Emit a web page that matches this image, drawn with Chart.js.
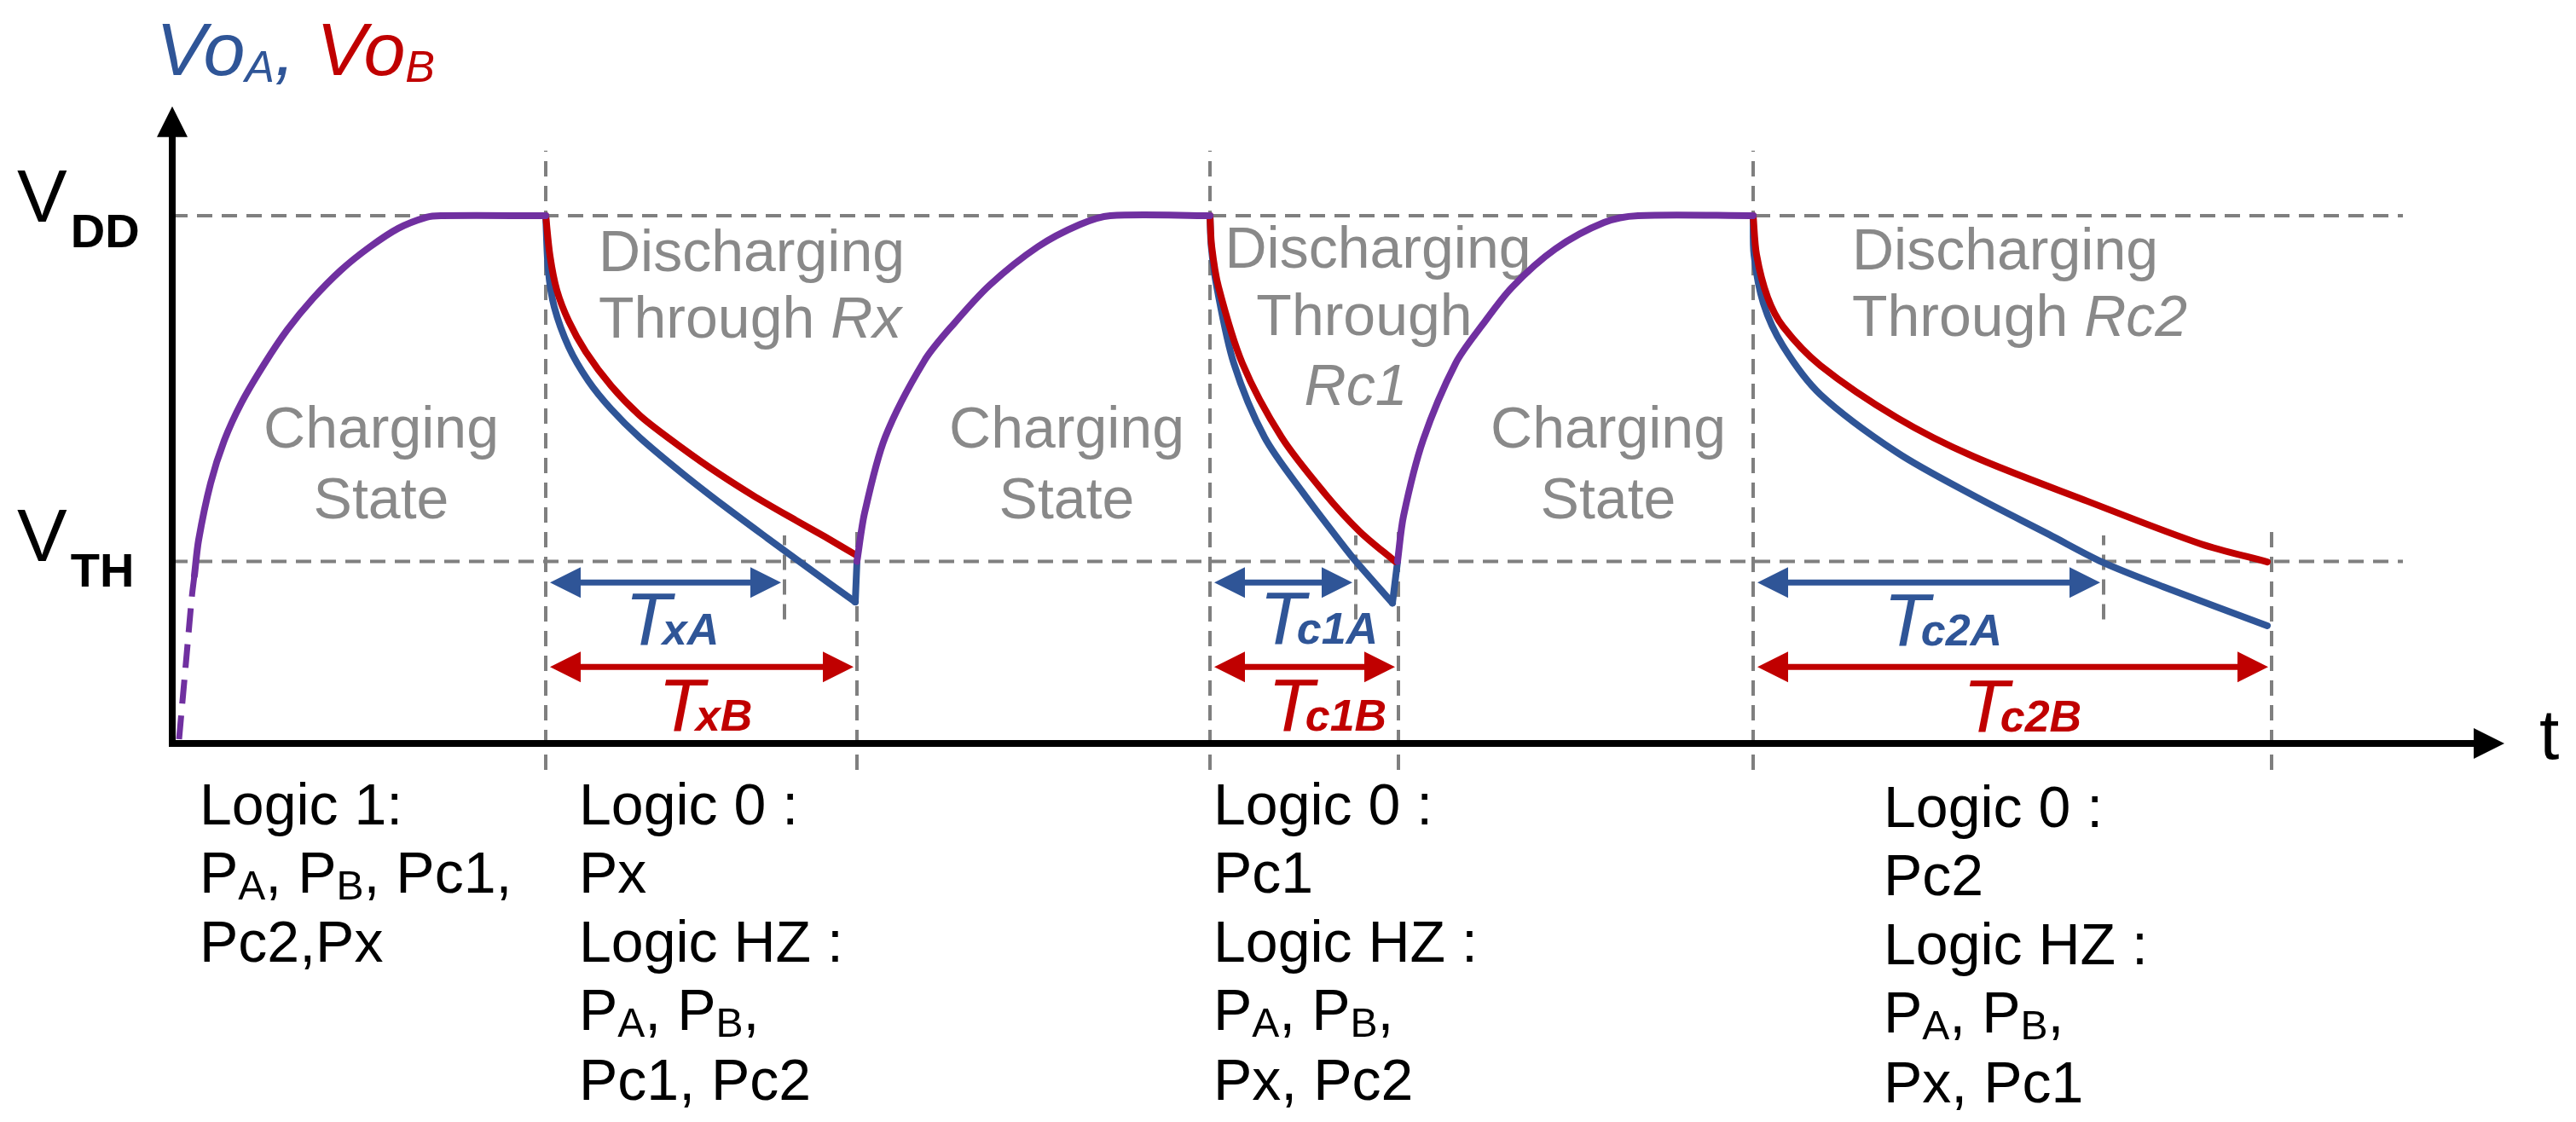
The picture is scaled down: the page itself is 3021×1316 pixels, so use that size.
<!DOCTYPE html>
<html lang="en">
<head>
<meta charset="UTF-8">
<title>VoA, VoB charging / discharging</title>
<script src="https://cdn.jsdelivr.net/npm/chart.js"></script>
<style>
  html, body { margin: 0; padding: 0; background: #fff; }
  #wrap { width: 3021px; height: 1316px; }
</style>
</head>
<body>
<div id="wrap"><canvas id="timing" width="3021" height="1316"></canvas></div>
<script>
// voltage levels, VDD normalised to 1
const VDD = 1.0;
const VTH = 0.345;

// time marks (arbitrary units)
const dischargeStart = [4.38, 12.17, 18.54];
const dischargeEnd = [8.03, 14.38, 24.62];
const crossA = [7.18, 13.88, 22.65]; // VoA reaches VTH

// charging curves (shared by VoA and VoB) [t, v]
const charge1Dashed = [[0.08, 0.008], [0.17, 0.17], [0.23, 0.278], [0.26, 0.318]];
const charge1 = [[0.26, 0.318], [0.31, 0.386], [0.45, 0.493], [0.61, 0.574], [0.81, 0.645], [1.08, 0.719],
  [1.35, 0.784], [1.65, 0.843], [1.98, 0.897], [2.31, 0.940], [2.65, 0.976], [2.98, 0.997], [3.15, 1.0], [4.38, 1.0]];
const charge2 = [[8.03, 0.345], [8.12, 0.437], [8.36, 0.580], [8.82, 0.725], [9.17, 0.796], [9.59, 0.869],
  [10.15, 0.941], [10.64, 0.983], [11.0, 1.0], [12.17, 1.0]];
const charge3 = [[14.37, 0.345], [14.44, 0.431], [14.67, 0.575], [15.05, 0.72], [15.36, 0.792], [15.71, 0.864],
  [16.22, 0.937], [16.79, 0.987], [17.19, 1.0], [18.54, 1.0]];

// discharge of VoA (blue)
const dischA1 = [[4.38, 1.0], [4.41, 0.897], [4.48, 0.827], [4.65, 0.751], [4.88, 0.687], [5.15, 0.633],
  [5.48, 0.580], [5.98, 0.512], [6.48, 0.449], [6.98, 0.389], [7.48, 0.330], [8.01, 0.268]];
const dischA2 = [[12.17, 1.0], [12.185, 0.942], [12.25, 0.865], [12.45, 0.72], [12.81, 0.58], [13.27, 0.473],
  [13.78, 0.365], [13.88, 0.345], [14.31, 0.266]];
const dischA3 = [[18.54, 1.0], [18.55, 0.926], [18.66, 0.834], [18.89, 0.753], [19.33, 0.661], [20.23, 0.551],
  [21.12, 0.470], [22.01, 0.396], [22.63, 0.344], [23.35, 0.297], [24.57, 0.223]];
const riseA = [[[8.01, 0.268], [8.03, 0.345]], [[14.31, 0.266], [14.37, 0.345]]];

// discharge of VoB (red)
const dischB1 = [[4.38, 1.0], [4.43, 0.924], [4.51, 0.859], [4.65, 0.800], [4.85, 0.742], [5.15, 0.677],
  [5.48, 0.622], [5.81, 0.580], [6.31, 0.522], [6.81, 0.470], [7.31, 0.423], [7.65, 0.392], [8.03, 0.356]];
const dischB2 = [[12.17, 1.0], [12.19, 0.942], [12.27, 0.865], [12.55, 0.72], [13.01, 0.58], [13.52, 0.473],
  [13.93, 0.401], [14.34, 0.345]];
const dischB3 = [[18.54, 1.0], [18.58, 0.926], [18.71, 0.845], [18.89, 0.790], [19.33, 0.716], [20.23, 0.617],
  [21.12, 0.544], [22.46, 0.459], [23.79, 0.378], [24.57, 0.344]];

const BLUE = '#2f5597', RED = '#c00000', PURPLE = '#7030a0', GREY = '#7f7f7f', TEXTGREY = '#898989';
const FONT = '"Liberation Sans", Arial, sans-serif';

function curve(points, color, extra) {
  return Object.assign({
    data: points.map(p => ({ x: p[0], y: p[1] })),
    borderColor: color,
    borderWidth: 8,
    pointRadius: 0,
    fill: false,
    tension: 0.3,
    borderCapStyle: 'round',
    borderJoinStyle: 'round',
    order: 1
  }, extra || {});
}
function dashed(points) {
  return {
    data: points.map(p => ({ x: p[0], y: p[1] })),
    borderColor: GREY, borderWidth: 4, borderDash: [18, 11],
    pointRadius: 0, fill: false, tension: 0, order: 5
  };
}

const datasets = [];
// guide lines
[VDD, VTH].forEach(v => datasets.push(dashed([[0, v], [26.16, v]])));
dischargeStart.forEach(t => datasets.push(dashed([[t, -0.05], [t, 1.123]])));
dischargeEnd.forEach(t => datasets.push(dashed([[t, -0.05], [t, 0.418]])));
crossA.forEach(t => datasets.push(dashed([[t, 0.235], [t, 0.394]])));
// waveforms
[dischA1, dischA2, dischA3].forEach(d => datasets.push(curve(d, BLUE, { order: 3 })));
riseA.forEach(d => datasets.push(curve(d, BLUE, { order: 3, tension: 0 })));
[dischB1, dischB2, dischB3].forEach(d => datasets.push(curve(d, RED, { order: 2 })));
[charge1, charge2, charge3].forEach(d => datasets.push(curve(d, PURPLE, { order: 1 })));
datasets.push(curve(charge1Dashed, PURPLE, { borderWidth: 7, borderDash: [28, 14], borderCapStyle: 'butt' }));

function rich(ctx, x, y, runs, align) {
  let w = 0;
  runs.forEach(r => { ctx.font = r[1]; w += ctx.measureText(r[0]).width + (r[4] || 0); });
  let cx = align === 'center' ? x - w / 2 : x;
  runs.forEach(r => {
    ctx.font = r[1];
    ctx.fillStyle = r[2];
    cx += r[4] || 0;
    ctx.fillText(r[0], cx, y + (r[3] || 0));
    cx += ctx.measureText(r[0]).width;
  });
}

function head(ctx, tipX, tipY, dir, color) {
  // dir: 1 = pointing right, -1 left, 'up'
  ctx.fillStyle = color;
  ctx.beginPath();
  if (dir === 'up') {
    ctx.moveTo(tipX, tipY);
    ctx.lineTo(tipX - 18, tipY + 36);
    ctx.lineTo(tipX + 18, tipY + 36);
  } else {
    ctx.moveTo(tipX, tipY);
    ctx.lineTo(tipX - dir * 36, tipY - 18);
    ctx.lineTo(tipX - dir * 36, tipY + 18);
  }
  ctx.closePath();
  ctx.fill();
}

const decorations = {
  id: 'decorations',
  beforeDatasetsDraw(chart) {
    const ctx = chart.ctx;
    ctx.save();
    ctx.textBaseline = 'alphabetic';
    const reg = '68px ' + FONT, ital = 'italic 68px ' + FONT;
    // state labels
    [447, 1251, 1886].forEach(cx => {
      rich(ctx, cx, 525, [['Charging', reg, TEXTGREY]], 'center');
      rich(ctx, cx, 608, [['State', reg, TEXTGREY]], 'center');
    });
    rich(ctx, 702, 318, [['Discharging', reg, TEXTGREY]]);
    rich(ctx, 702, 396, [['Through ', reg, TEXTGREY], ['Rx', ital, TEXTGREY]]);
    rich(ctx, 1616, 314, [['Discharging', reg, TEXTGREY]], 'center');
    rich(ctx, 1600, 393, [['Through', reg, TEXTGREY]], 'center');
    rich(ctx, 1590, 475, [['Rc1', ital, TEXTGREY]], 'center');
    rich(ctx, 2172, 316, [['Discharging', reg, TEXTGREY]]);
    rich(ctx, 2172, 394, [['Through ', reg, TEXTGREY], ['Rc2', ital, TEXTGREY]]);
    ctx.restore();
  },
  afterDatasetsDraw(chart) {
    const { ctx, scales: { x, y } } = chart;
    const px = v => x.getPixelForValue(v), py = v => y.getPixelForValue(v);
    ctx.save();

    // axes
    const x0 = px(0), y0 = py(0);
    const yTip = py(1.207), xTip = px(27.35);
    ctx.strokeStyle = '#000';
    ctx.lineWidth = 8;
    ctx.lineJoin = 'miter';
    ctx.beginPath();
    ctx.moveTo(x0, yTip + 30);
    ctx.lineTo(x0, y0);
    ctx.lineTo(xTip - 30, y0);
    ctx.stroke();
    head(ctx, x0, yTip, 'up', '#000');
    head(ctx, xTip, y0, 1, '#000');

    // double arrows
    const levA = py(0.305), levB = py(0.145);
    const arrow = (t1, t2, yy, color) => {
      const a = px(t1) + 5, b = px(t2) - 4;
      ctx.strokeStyle = color;
      ctx.lineWidth = 7;
      ctx.beginPath();
      ctx.moveTo(a + 20, yy);
      ctx.lineTo(b - 20, yy);
      ctx.stroke();
      head(ctx, a, yy, -1, color);
      head(ctx, b, yy, 1, color);
    };
    for (let i = 0; i < 3; i++) {
      arrow(dischargeStart[i], crossA[i], levA, BLUE);
      arrow(dischargeStart[i], dischargeEnd[i], levB, RED);
    }

    ctx.textBaseline = 'alphabetic';
    const T = 'italic 88px ' + FONT, sub = 'italic bold 52px ' + FONT;
    rich(ctx, 733, 756, [['T', T, BLUE], ['xA', sub, BLUE, 0, -10]]);
    rich(ctx, 772, 857, [['T', T, RED], ['xB', sub, RED, 0, -10]]);
    rich(ctx, 1477, 755, [['T', T, BLUE], ['c1A', sub, BLUE, 0, -10]]);
    rich(ctx, 1487, 857, [['T', T, RED], ['c1B', sub, RED, 0, -10]]);
    rich(ctx, 2209, 757, [['T', T, BLUE], ['c2A', sub, BLUE, 0, -10]]);
    rich(ctx, 2302, 858, [['T', T, RED], ['c2B', sub, RED, 0, -10]]);

    // title and axis labels
    const it = 'italic 88px ' + FONT, itSub = 'italic 52px ' + FONT;
    rich(ctx, 183, 88, [['Vo', it, BLUE], ['A', itSub, BLUE, 8], [', ', it, BLUE],
      ['Vo', it, RED], ['B', itSub, RED, 8]]);
    const big = '88px ' + FONT, bsub = 'bold 56px ' + FONT;
    rich(ctx, 20, 260, [['V', big, '#000'], ['DD', bsub, '#000', 30, 4]]);
    rich(ctx, 20, 658, [['V', big, '#000'], ['TH', bsub, '#000', 30, 4]]);
    rich(ctx, 2978, 890, [['t', '84px ' + FONT, '#000']]);

    // logic tables
    const f = '68px ' + FONT, s = '48px ' + FONT, k = '#000';
    const pab = [['P', f, k], ['A', s, k, 8], [', P', f, k], ['B', s, k, 8], [',', f, k]];
    rich(ctx, 234, 967, [['Logic 1:', f, k]]);
    rich(ctx, 234, 1047, pab.slice(0, 4).concat([[', Pc1,', f, k]]));
    rich(ctx, 234, 1128, [['Pc2,Px', f, k]]);
    const col = (cx, dy, zero, hz) => {
      rich(ctx, cx, 967 + dy, [['Logic 0 :', f, k]]);
      rich(ctx, cx, 1047 + dy, [[zero, f, k]]);
      rich(ctx, cx, 1128 + dy, [['Logic HZ :', f, k]]);
      rich(ctx, cx, 1208 + dy, pab);
      rich(ctx, cx, 1290 + dy, [[hz, f, k]]);
    };
    col(679, 0, 'Px', 'Pc1, Pc2');
    col(1423, 0, 'Pc1', 'Px, Pc2');
    col(2209, 3, 'Pc2', 'Px, Pc1');
    ctx.restore();
  }
};

new Chart(document.getElementById('timing').getContext('2d'), {
  type: 'line',
  data: { datasets },
  options: {
    responsive: false,
    animation: false,
    events: [],
    layout: { padding: 0 },
    scales: {
      x: { type: 'linear', display: false, min: -2.02, max: 28.19 },
      y: { type: 'linear', display: false, min: -0.7173, max: 1.4087 }
    },
    plugins: { legend: { display: false }, tooltip: { enabled: false } }
  },
  plugins: [decorations]
});
</script>
</body>
</html>
